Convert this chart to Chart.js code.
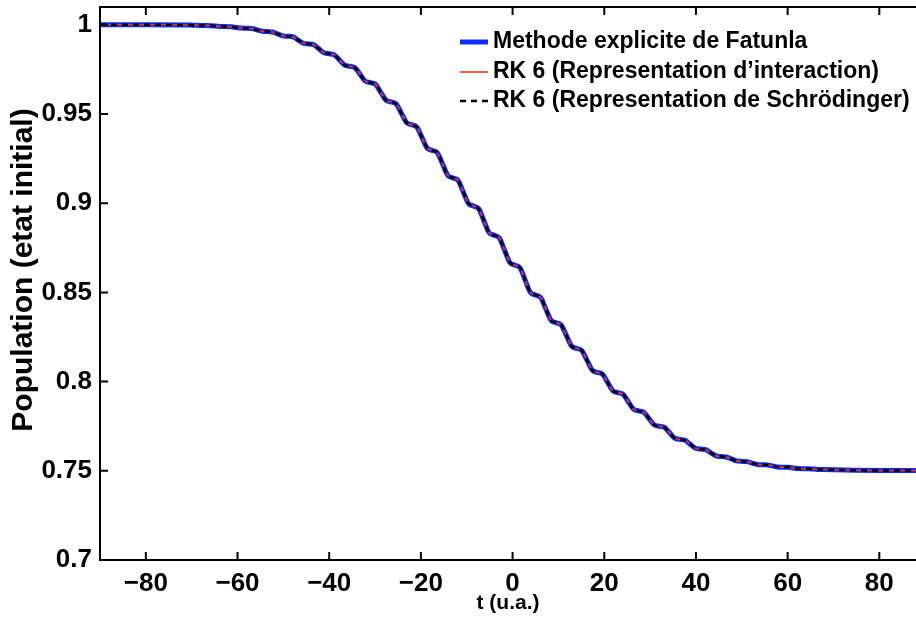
<!DOCTYPE html>
<html>
<head>
<meta charset="utf-8">
<script src="https://cdn.jsdelivr.net/npm/chart.js@4.4.1/dist/chart.umd.min.js"></script>
<style>
  html, body { margin: 0; padding: 0; background: #fff; overflow: hidden; }
  #wrap { width: 916px; height: 618px; }
</style>
</head>
<body>
<div id="wrap"><canvas id="popChart"></canvas></div>
<script>
// time axis (u.a.): plateau of each step + 3 points across each drop
var tValues = [
  -90, -80,
  -71.5, -70.375, -69.25, -68.125,
  -67, -65.875, -64.75, -63.625,
  -62.5, -61.375, -60.25, -59.125,
  -58, -56.875, -55.75, -54.625,
  -53.5, -52.375, -51.25, -50.125,
  -49, -47.875, -46.75, -45.625,
  -44.5, -43.375, -42.25, -41.125,
  -40, -38.875, -37.75, -36.625,
  -35.5, -34.375, -33.25, -32.125,
  -31, -29.875, -28.75, -27.625,
  -26.5, -25.375, -24.25, -23.125,
  -22, -20.875, -19.75, -18.625,
  -17.5, -16.375, -15.25, -14.125,
  -13, -11.875, -10.75, -9.625,
  -8.5, -7.375, -6.25, -5.125,
  -4, -2.875, -1.75, -0.625,
  0.5, 1.625, 2.75, 3.875,
  5, 6.125, 7.25, 8.375,
  9.5, 10.625, 11.75, 12.875,
  14, 15.125, 16.25, 17.375,
  18.5, 19.625, 20.75, 21.875,
  23, 24.125, 25.25, 26.375,
  27.5, 28.625, 29.75, 30.875,
  32, 33.125, 34.25, 35.375,
  36.5, 37.625, 38.75, 39.875,
  41, 42.125, 43.25, 44.375,
  45.5, 46.625, 47.75, 48.875,
  50, 51.125, 52.25, 53.375,
  54.5, 55.625, 56.75, 57.875,
  59, 60.125, 61.25, 62.375,
  63.5, 64.625, 65.75, 66.875,
  68, 72.5, 80, 88
];
// population of the initial state (all three methods overlap on the plot)
var popFatunla = [
  1.0000, 1.0000,
  0.9999, 0.99987, 0.99975, 0.99963,
  0.9996, 0.99955, 0.9993, 0.99905,
  0.9990, 0.99892, 0.99855, 0.99818,
  0.9981, 0.99793, 0.99715, 0.99637,
  0.9962, 0.99596, 0.9949, 0.99384,
  0.9936, 0.99321, 0.99145, 0.98969,
  0.9893, 0.9888, 0.98655, 0.9843,
  0.9838, 0.98316, 0.9803, 0.97744,
  0.9768, 0.97596, 0.9722, 0.96844,
  0.9676, 0.96662, 0.9622, 0.95778,
  0.9568, 0.95564, 0.9504, 0.94516,
  0.9440, 0.94269, 0.9368, 0.93091,
  0.9296, 0.9282, 0.9219, 0.9156,
  0.9142, 0.91276, 0.9063, 0.89984,
  0.8984, 0.89691, 0.8902, 0.88349,
  0.8820, 0.8805, 0.87365, 0.8668,
  0.8653, 0.86377, 0.8569, 0.85003,
  0.8485, 0.84709, 0.84075, 0.83441,
  0.8330, 0.83169, 0.8258, 0.81991,
  0.8186, 0.81738, 0.8119, 0.80642,
  0.8052, 0.80416, 0.7995, 0.79484,
  0.7938, 0.79287, 0.7887, 0.78453,
  0.7836, 0.78282, 0.7793, 0.77578,
  0.7750, 0.77433, 0.7713, 0.76827,
  0.7676, 0.76711, 0.7649, 0.76269,
  0.7622, 0.76182, 0.7601, 0.75838,
  0.7580, 0.75775, 0.75665, 0.75555,
  0.7553, 0.75513, 0.75435, 0.75357,
  0.7534, 0.75327, 0.7527, 0.75213,
  0.7520, 0.75193, 0.7516, 0.75127,
  0.7512, 0.75115, 0.75095, 0.75075,
  0.7507, 0.7504, 0.7502, 0.7502
];
var popRK6Interaction = popFatunla;
var popRK6Schrodinger = popFatunla;

var xTicks = [-80, -60, -40, -20, 0, 20, 40, 60, 80];
var xTickLabels = ['\u221280', '\u221260', '\u221240', '\u221220', '0', '20', '40', '60', '80'];
var yTicks = [0.7, 0.75, 0.8, 0.85, 0.9, 0.95, 1];
var yTickLabels = ['0.7', '0.75', '0.8', '0.85', '0.9', '0.95', '1'];

var seriesNames = [
  'Methode explicite de Fatunla',
  'RK 6 (Representation d\u2019interaction)',
  'RK 6 (Representation de Schr\u00f6dinger)'
];
var yTitle = 'Population (etat initial)';

function points(ys) {
  return tValues.map(function (t, i) { return { x: t, y: ys[i] }; });
}

var FONT = "'Liberation Sans', Arial, Helvetica, sans-serif";
Chart.defaults.font.family = FONT;
Chart.defaults.font.weight = 'bold';
Chart.defaults.color = '#000';

// MATLAB-like box with inward ticks, plus the y label
var frame = {
  id: 'frame',
  afterDraw: function (chart) {
    var ctx = chart.ctx, a = chart.chartArea;
    var x = chart.scales.x, y = chart.scales.y;
    ctx.save();
    ctx.strokeStyle = '#000';
    ctx.lineWidth = 2;
    ctx.beginPath();
    ctx.moveTo(a.right + 5, a.top);
    ctx.lineTo(a.left, a.top);
    ctx.lineTo(a.left, a.bottom);
    ctx.lineTo(a.right + 5, a.bottom);
    x.ticks.forEach(function (t) {
      var px = x.getPixelForValue(t.value);
      ctx.moveTo(px, a.bottom); ctx.lineTo(px, a.bottom - 8);
      ctx.moveTo(px, a.top); ctx.lineTo(px, a.top + 8);
    });
    y.ticks.forEach(function (t) {
      var py = y.getPixelForValue(t.value);
      ctx.moveTo(a.left, py); ctx.lineTo(a.left + 8, py);
    });
    ctx.stroke();

    ctx.translate(24, 270);
    ctx.rotate(-Math.PI / 2);
    ctx.fillStyle = '#000';
    ctx.font = 'bold 30px ' + FONT;
    ctx.textAlign = 'center';
    ctx.textBaseline = 'middle';
    ctx.fillText(yTitle, 0, 0);
    ctx.restore();
  }
};

// legend inside the plot, top right, no box
var insideLegend = {
  id: 'insideLegend',
  afterDraw: function (chart) {
    var ctx = chart.ctx;
    var x0 = 460, x1 = 488, rowY = [42, 72, 101];
    ctx.save();
    chart.data.datasets.forEach(function (ds, i) {
      var yy = rowY[i];
      ctx.beginPath();
      ctx.strokeStyle = ds.borderColor;
      ctx.lineWidth = ds.borderWidth;
      ctx.setLineDash(ds.borderDash || []);
      ctx.moveTo(x0, yy); ctx.lineTo(x1, yy);
      ctx.stroke();
      ctx.setLineDash([]);
      ctx.fillStyle = '#000';
      ctx.font = 'bold 23px ' + FONT;
      ctx.textBaseline = 'middle';
      ctx.textAlign = 'left';
      ctx.fillText(ds.label, 493, yy);
    });
    ctx.restore();
  }
};

new Chart(document.getElementById('popChart'), {
  type: 'line',
  data: {
    datasets: [
      {
        label: seriesNames[0],
        data: points(popFatunla),
        borderColor: '#0a2cff',
        borderWidth: 5,
        order: 3
      },
      {
        label: seriesNames[1],
        data: points(popRK6Interaction),
        borderColor: '#ff2a0a',
        borderWidth: 1.5,
        order: 2
      },
      {
        label: seriesNames[2],
        data: points(popRK6Schrodinger),
        borderColor: '#000',
        borderWidth: 2.5,
        borderDash: [6, 5],
        order: 1
      }
    ]
  },
  options: {
    responsive: true,
    maintainAspectRatio: false,
    animation: false,
    layout: { padding: { top: 7, right: 0, left: 0, bottom: 0 } },
    elements: {
      point: { radius: 0 },
      line: { cubicInterpolationMode: 'monotone', fill: false }
    },
    plugins: {
      legend: { display: false },
      tooltip: { enabled: false }
    },
    scales: {
      x: {
        type: 'linear',
        min: -90,
        max: 88,
        afterBuildTicks: function (s) { s.ticks = xTicks.map(function (v) { return { value: v }; }); },
        afterFit: function (s) { s.height = 58; s.paddingLeft = 0; s.paddingRight = 0; },
        grid: { display: false, drawTicks: false },
        border: { display: false },
        ticks: {
          padding: 8,
          maxRotation: 0,
          font: { size: 26, weight: 'bold' },
          callback: function (v) { return xTickLabels[xTicks.indexOf(v)]; }
        },
        title: {
          display: true,
          text: 't (u.a.)',
          font: { size: 21, weight: 'bold' },
          padding: { top: 0, bottom: 2 }
        }
      },
      y: {
        type: 'linear',
        min: 0.7,
        max: 1.01,
        afterBuildTicks: function (s) { s.ticks = yTicks.map(function (v) { return { value: v }; }); },
        afterFit: function (s) { s.width = 100; s.paddingTop = 0; s.paddingBottom = 0; },
        grid: { display: false, drawTicks: false },
        border: { display: false },
        ticks: {
          padding: 8,
          font: { size: 26, weight: 'bold' },
          callback: function (v) { return yTickLabels[yTicks.indexOf(v)]; }
        },
        title: { display: false }
      }
    }
  },
  plugins: [frame, insideLegend]
});
</script>
</body>
</html>
